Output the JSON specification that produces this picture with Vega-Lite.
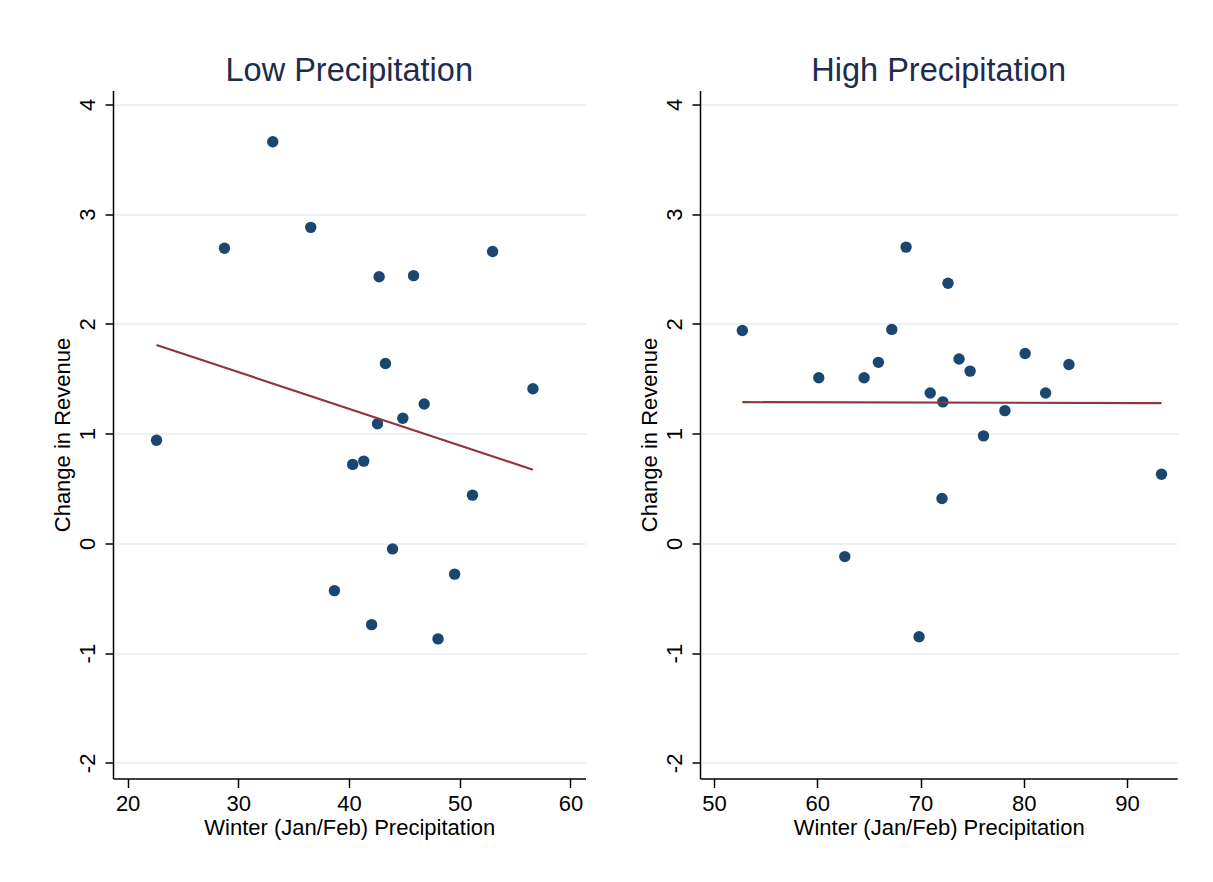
{
  "$schema": "https://vega.github.io/schema/vega-lite/v6.json",
  "background": "white",
  "padding": {"left": 51, "top": 54.5, "right": 30, "bottom": 30},
  "spacing": 52,
  "datasets": {
    "low": [
      {"precip": 33.11, "revenue": 3.66}, {"precip": 28.75, "revenue": 2.69}, {"precip": 36.54, "revenue": 2.88},
      {"precip": 42.72, "revenue": 2.43}, {"precip": 45.83, "revenue": 2.44}, {"precip": 52.97, "revenue": 2.66},
      {"precip": 22.61, "revenue": 0.94}, {"precip": 43.29, "revenue": 1.64}, {"precip": 56.61, "revenue": 1.41},
      {"precip": 46.79, "revenue": 1.27}, {"precip": 44.86, "revenue": 1.14}, {"precip": 42.57, "revenue": 1.09},
      {"precip": 40.33, "revenue": 0.72}, {"precip": 41.33, "revenue": 0.75}, {"precip": 51.15, "revenue": 0.44},
      {"precip": 43.93, "revenue": -0.05}, {"precip": 49.54, "revenue": -0.28}, {"precip": 38.68, "revenue": -0.43},
      {"precip": 42.04, "revenue": -0.74}, {"precip": 48.04, "revenue": -0.87}
    ],
    "low_fit": [
      {"precip": 22.61, "revenue": 1.808}, {"precip": 56.61, "revenue": 0.672}
    ],
    "high": [
      {"precip": 52.75, "revenue": 1.94}, {"precip": 60.15, "revenue": 1.51}, {"precip": 64.54, "revenue": 1.51},
      {"precip": 65.92, "revenue": 1.65}, {"precip": 67.22, "revenue": 1.95}, {"precip": 73.73, "revenue": 1.68},
      {"precip": 74.8, "revenue": 1.57}, {"precip": 70.94, "revenue": 1.37}, {"precip": 72.16, "revenue": 1.29},
      {"precip": 80.13, "revenue": 1.73}, {"precip": 84.37, "revenue": 1.63}, {"precip": 82.11, "revenue": 1.37},
      {"precip": 78.17, "revenue": 1.21}, {"precip": 76.1, "revenue": 0.98}, {"precip": 93.33, "revenue": 0.63},
      {"precip": 72.08, "revenue": 0.41}, {"precip": 62.67, "revenue": -0.12}, {"precip": 69.86, "revenue": -0.85},
      {"precip": 68.6, "revenue": 2.7}, {"precip": 72.66, "revenue": 2.37}
    ],
    "high_fit": [
      {"precip": 52.75, "revenue": 1.287}, {"precip": 93.33, "revenue": 1.279}
    ]
  },
  "config": {
    "font": "Liberation Sans",
    "view": {"stroke": null},
    "axis": {
      "domainColor": "black", "domainWidth": 1.5, "tickColor": "black", "tickWidth": 1.5,
      "labelColor": "black", "titleColor": "black", "labelFontSize": 22, "titleFontSize": 22,
      "labelFont": "Liberation Sans", "titleFont": "Liberation Sans", "titleFontWeight": "normal",
      "gridColor": "#EAF2F3", "gridWidth": 2, "labelFlush": false
    },
    "title": {"fontSize": 32.5, "fontWeight": "normal", "color": "#1E2C4E", "anchor": "middle", "baseline": "alphabetic", "offset": 3.5, "font": "Liberation Sans"}
  },
  "hconcat": [
    {
      "title": "Low Precipitation",
      "width": 472.5, "height": 688,
      "layer": [
        {
          "data": {"name": "low"},
          "mark": {"type": "circle", "size": 130, "opacity": 1, "color": "#1A476F"},
          "encoding": {
            "x": {"field": "precip", "type": "quantitative",
                  "scale": {"domain": [18.68, 61.36], "nice": false, "zero": false},
                  "axis": {"title": "Winter (Jan/Feb) Precipitation", "values": [20, 30, 40, 50, 60], "grid": false,
                           "tickSize": 9, "labelPadding": 6, "minExtent": 30, "maxExtent": 30,
                           "titlePadding": 25.5, "titleBaseline": "alphabetic"}},
            "y": {"field": "revenue", "type": "quantitative",
                  "scale": {"domain": [-2.142, 4.127], "nice": false, "zero": false},
                  "axis": {"title": "Change in Revenue", "values": [-2, -1, 0, 1, 2, 3, 4],
                           "labelExpr": "datum.value < 0 ? '-' + abs(datum.value) : '' + datum.value", "grid": true,
                           "labelAngle": -90, "labelAlign": "center", "labelBaseline": "alphabetic",
                           "tickSize": 8, "labelPadding": 10.5, "minExtent": 30, "maxExtent": 30,
                           "titlePadding": 13.5, "titleBaseline": "alphabetic"}}
          }
        },
        {
          "data": {"name": "low_fit"},
          "mark": {"type": "line", "color": "#90353B", "strokeWidth": 2.2},
          "encoding": {
            "x": {"field": "precip", "type": "quantitative"},
            "y": {"field": "revenue", "type": "quantitative"}
          }
        }
      ]
    },
    {
      "title": "High Precipitation",
      "width": 477.3, "height": 688,
      "layer": [
        {
          "data": {"name": "high"},
          "mark": {"type": "circle", "size": 130, "opacity": 1, "color": "#1A476F"},
          "encoding": {
            "x": {"field": "precip", "type": "quantitative",
                  "scale": {"domain": [48.65, 94.86], "nice": false, "zero": false},
                  "axis": {"title": "Winter (Jan/Feb) Precipitation", "values": [50, 60, 70, 80, 90], "grid": false,
                           "tickSize": 9, "labelPadding": 6, "minExtent": 30, "maxExtent": 30,
                           "titlePadding": 25.5, "titleBaseline": "alphabetic"}},
            "y": {"field": "revenue", "type": "quantitative",
                  "scale": {"domain": [-2.142, 4.127], "nice": false, "zero": false},
                  "axis": {"title": "Change in Revenue", "values": [-2, -1, 0, 1, 2, 3, 4],
                           "labelExpr": "datum.value < 0 ? '-' + abs(datum.value) : '' + datum.value", "grid": true,
                           "labelAngle": -90, "labelAlign": "center", "labelBaseline": "alphabetic",
                           "tickSize": 8, "labelPadding": 10.5, "minExtent": 30, "maxExtent": 30,
                           "titlePadding": 13.5, "titleBaseline": "alphabetic"}}
          }
        },
        {
          "data": {"name": "high_fit"},
          "mark": {"type": "line", "color": "#90353B", "strokeWidth": 2.2},
          "encoding": {
            "x": {"field": "precip", "type": "quantitative"},
            "y": {"field": "revenue", "type": "quantitative"}
          }
        }
      ]
    }
  ]
}
